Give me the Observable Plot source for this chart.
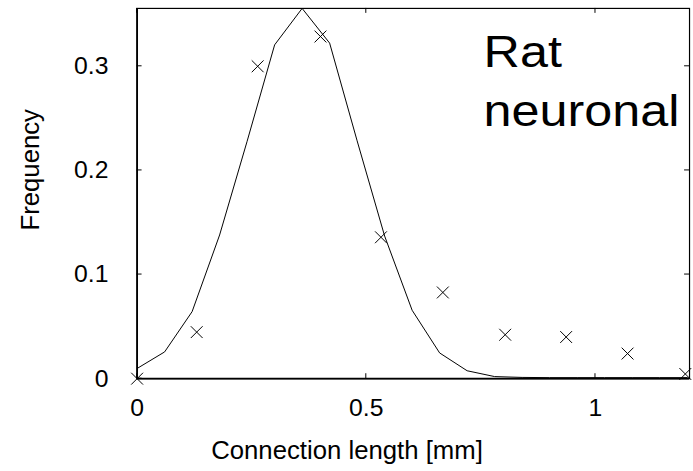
<!DOCTYPE html>
<html>
<head>
<meta charset="utf-8">
<script src="https://cdn.jsdelivr.net/npm/d3@7"></script>
<script src="https://cdn.jsdelivr.net/npm/@observablehq/plot@0.6"></script>
<style>
  html, body { margin: 0; padding: 0; background: #fff; overflow: hidden; }
  #chart { width: 693px; height: 471px; overflow: hidden; }
  #chart svg { font-family: "Liberation Sans", Arial, sans-serif; }
</style>
</head>
<body>
<div id="chart"></div>
<script>
// Fitted curve (line)
const curveX = [0, 0.06, 0.12, 0.18, 0.24, 0.30, 0.36, 0.42, 0.48, 0.54, 0.60, 0.66, 0.72, 0.78, 0.84, 0.90, 0.96, 1.02, 1.08, 1.14, 1.20];
const curveY = [0.0098, 0.0257, 0.0644, 0.138, 0.228, 0.3206, 0.3556, 0.3223, 0.2284, 0.137, 0.0657, 0.0247, 0.0076, 0.002, 0.0012, 0.001, 0.001, 0.001, 0.001, 0.001, 0.001];
// Measured frequencies (crosses)
const pointX = [0, 0.13, 0.263, 0.4, 0.532, 0.667, 0.803, 0.936, 1.07, 1.196];
const pointY = [0, 0.0447, 0.300, 0.3286, 0.1358, 0.0828, 0.0422, 0.040, 0.0241, 0.0045];
// Ticks and labels
const xTicks = [0, 0.5, 1];
const yTicks = [0, 0.1, 0.2, 0.3];
const xLabel = "Connection length [mm]";
const yLabel = "Frequency";
const annotation = "Rat\nneuronal";

const curve = curveX.map((x, i) => ({x, y: curveY[i]}));
const points = pointX.map((x, i) => ({x, y: pointY[i]}));

function inwardTicks(index, scales, values, dims) {
  const L = dims.marginLeft, R = dims.width - dims.marginRight;
  const T = dims.marginTop, B = dims.height - dims.marginBottom;
  const g = d3.create("svg:g").attr("stroke", "black").attr("stroke-width", 1);
  const len = 5;
  for (const t of xTicks) {
    const px = scales.x(t);
    g.append("line").attr("x1", px).attr("x2", px).attr("y1", B).attr("y2", B - len);
    g.append("line").attr("x1", px).attr("x2", px).attr("y1", T).attr("y2", T + len);
  }
  for (const t of yTicks) {
    const py = scales.y(t);
    g.append("line").attr("x1", L).attr("x2", L + len).attr("y1", py).attr("y2", py);
    g.append("line").attr("x1", R).attr("x2", R - len).attr("y1", py).attr("y2", py);
  }
  return g.node();
}

const fmt = d => String(d);

const plot = Plot.plot({
  width: 700,
  height: 471,
  marginLeft: 138,
  marginRight: 4,
  marginTop: 8,
  marginBottom: 89,
  style: {fontFamily: "Liberation Sans, Arial, sans-serif", color: "black", background: "white", overflow: "visible"},
  x: {domain: [0, 1.2052], axis: null},
  y: {domain: [0, 0.3556], axis: null},
  marks: [
    Plot.frame({stroke: "black", strokeWidth: 1.2}),
    Plot.ruleX([0], {stroke: "black", strokeWidth: 1.8}),
    Plot.ruleY([0], {stroke: "black", strokeWidth: 1.8}),
    inwardTicks,
    Plot.axisX(xTicks, {anchor: "bottom", tickSize: 0, tickPadding: 20, tickFormat: fmt, fontSize: 25, label: null}),
    Plot.axisY(yTicks, {anchor: "left", tickSize: 0, tickPadding: 29, tickFormat: fmt, fontSize: 25, label: null}),
    Plot.line(curve, {x: "x", y: "y", stroke: "black", strokeWidth: 1}),
    Plot.dot(points, {x: "x", y: "y", symbol: "times", r: 5.5, stroke: "black", strokeWidth: 1}),
    Plot.text([xLabel], {frameAnchor: "bottom", dx: -67, dy: 81, lineAnchor: "bottom", textAnchor: "middle", fontSize: 26, fill: "black"}),
    Plot.text([yLabel], {frameAnchor: "left", rotate: -90, dx: -99, dy: -24, lineAnchor: "bottom", textAnchor: "middle", fontSize: 26, fill: "black"}),
    Plot.text([annotation], {frameAnchor: "top-left", dx: 350, dy: 118.7, lineAnchor: "bottom", textAnchor: "start", lineHeight: 1.333, fontSize: 45, fill: "black"})
  ]
});
document.getElementById("chart").appendChild(plot);
// The reference's annotation lettering is somewhat wider than Liberation Sans
const ann = [...plot.querySelectorAll("text")].find(e => e.textContent.includes("neuronal"));
if (ann) ann.setAttribute("transform", (ann.getAttribute("transform") || "") + " scale(1.13,1)");
</script>
</body>
</html>
